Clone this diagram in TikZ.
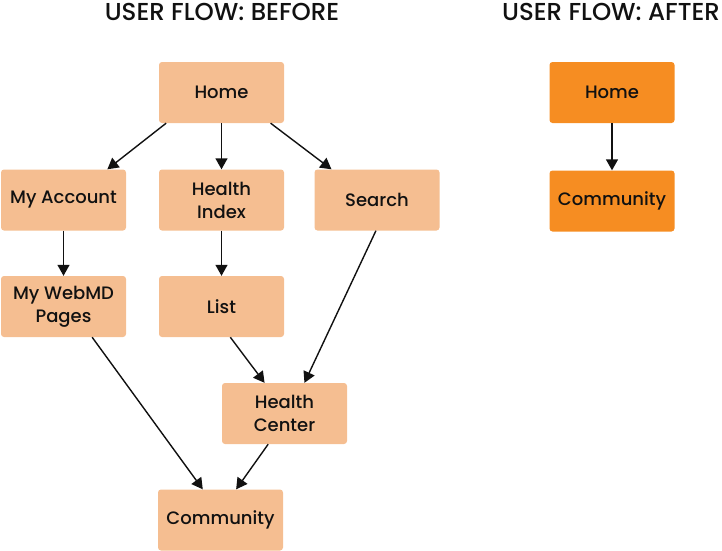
\documentclass[tikz,border=0pt]{standalone}
\usepackage{fontspec}
\setmainfont{Poppins}[UprightFont=* Medium]
\usetikzlibrary{positioning,arrows.meta}
\definecolor{flowlight}{HTML}{F5BE91}
\definecolor{flowdark}{HTML}{F68D22}
\definecolor{flowink}{HTML}{111111}

\begin{document}
\begin{tikzpicture}[
  x=1pt, y=1pt,
  font=\fontsize{18}{23}\selectfont,
  page/.style={fill=flowlight, rounded corners=3pt, minimum width=125pt,
    minimum height=61pt, align=center, inner sep=2pt, text=flowink},
  newpage/.style={page, fill=flowdark},
  title/.style={font=\fontsize{24.5}{28}\selectfont, text=flowink},
  link/.style={-{Triangle[length=11pt,width=12pt]}, line width=1.4pt, flowink},
  ]
  \useasboundingbox (0,0) rectangle (722,-550);
  % headings
  \node[title] (tbefore) at (222,-12) {USER FLOW: BEFORE};
  \node[title] (tafter) at (611,-12) {USER FLOW: AFTER};
  % before
  \node[page] (home) at (221.5,-92.5) {Home};
  \node[page] (acct) at (63.5,-200) {My Account};
  \node[page] (index) at (221.5,-200) {Health\\Index};
  \node[page] (search) at (377,-200) {Search};
  \node[page] (mypages) at (63.5,-306.5) {My WebMD\\Pages};
  \node[page] (list) at (221.5,-306.5) {List};
  \node[page] (center) at (284.5,-413.5) {Health\\Center};
  \node[page] (comm) at (220.5,-520) {Community};
  \draw[link] (home.209) -- (acct.35);
  \draw[link] (home) -- (index);
  \draw[link] (home.328) -- (search.146);
  \draw[link] (acct) -- (mypages);
  \draw[link] (index) -- (list);
  \draw[link] (search.268) -- (center.57);
  \draw[link] (list.286) -- (center.123);
  \draw[link] (mypages.313) -- (comm.120);
  \draw[link] (center.242) -- (comm.63);
  % after
  \node[newpage] (homeB) at (612,-92.5) {Home};
  \node[newpage] (commB) at (612,-201) {Community};
  \draw[link] (homeB) -- (commB);
\end{tikzpicture}
\end{document}
